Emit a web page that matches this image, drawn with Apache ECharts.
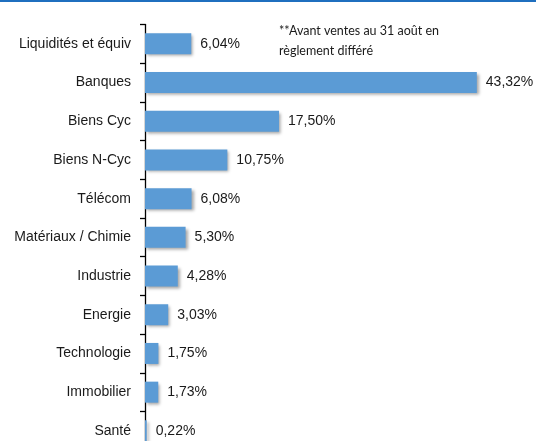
<!DOCTYPE html>
<html>
<head>
<meta charset="utf-8">
<script src="https://cdn.jsdelivr.net/npm/echarts@6/dist/echarts.min.js"></script>
<style>
html,body{margin:0;padding:0;background:#fff;overflow:hidden;}
#main{width:536px;height:480px;position:relative;}
</style>
</head>
<body>
<div id="main"></div>
<script>
const categories = ["Liquidités et équiv","Banques","Biens Cyc","Biens N-Cyc","Télécom","Matériaux / Chimie","Industrie","Energie","Technologie","Immobilier","Santé"];
const values = [6.04,43.32,17.50,10.75,6.08,5.30,4.28,3.03,1.75,1.73,0.22];
const noteLines = ["**Avant ventes au 31 août en","règlement différé"];

const chart = echarts.init(document.getElementById('main'), null, {renderer:'canvas'});
chart.setOption({
  backgroundColor:'#ffffff',
  animation:false,
  grid:{left:145, top:24.5, width:383, height:425.7, containLabel:false},
  xAxis:{type:'value', min:0, max:50, show:false},
  yAxis:{
    type:'category', data:categories, inverse:true,
    axisLine:{show:true, lineStyle:{color:'#000', width:1.3}},
    axisTick:{show:true, length:5, lineStyle:{color:'#000', width:1.3}},
    axisLabel:{color:'#1a1a1a', fontSize:14, fontFamily:'Liberation Sans, Arial, sans-serif', margin:14},
    splitLine:{show:false}
  },
  series:[{
    type:'bar', data:values, barWidth:21,
    itemStyle:{color:'#5b9bd5', shadowColor:'rgba(0,0,0,0.35)', shadowBlur:3, shadowOffsetX:2, shadowOffsetY:2},
    label:{show:true, position:'right', distance:9, color:'#1a1a1a', fontSize:14, fontFamily:'Liberation Sans, Arial, sans-serif',
      formatter:p=>p.value.toFixed(2).replace('.',',')+'%'}
  }],
  graphic:[
    {type:'rect', left:0, top:0, shape:{width:536, height:2}, style:{fill:'#1f6fbf'}},
    {type:'text', left:279, top:24, style:{text:noteLines[0], fill:'#1a1a1a', font:'12.5px Lato, "Open Sans", sans-serif'}},
    {type:'text', left:279, top:44, style:{text:noteLines[1], fill:'#1a1a1a', font:'12.5px Lato, "Open Sans", sans-serif'}}
  ]
});
</script>
</body>
</html>
